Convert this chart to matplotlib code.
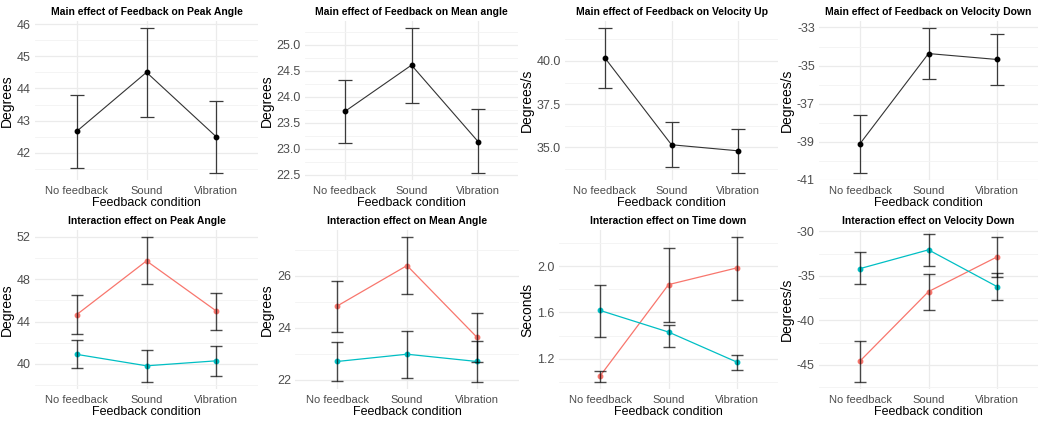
import matplotlib
matplotlib.use("Agg")
import matplotlib.pyplot as plt
from matplotlib.ticker import MultipleLocator, FormatStrFormatter

plt.rcParams['font.family'] = ['Liberation Sans', 'DejaVu Sans']

conditions = ["No feedback", "Sound", "Vibration"]

# main effects: mean, lower, upper
peak_mean = [42.67, 44.50, 42.50]
peak_lo = [41.52, 43.12, 41.38]
peak_hi = [43.80, 45.87, 43.62]

mean_angle_mean = [23.72, 24.61, 23.14]
mean_angle_lo = [23.11, 23.89, 22.54]
mean_angle_hi = [24.33, 25.32, 23.77]

vel_up_mean = [40.17, 35.15, 34.80]
vel_up_lo = [38.44, 33.84, 33.53]
vel_up_hi = [41.89, 36.46, 36.07]

vel_down_mean = [-39.10, -34.37, -34.68]
vel_down_lo = [-40.63, -35.70, -36.00]
vel_down_hi = [-37.60, -33.04, -33.33]

# interaction effects: two groups (red / teal)
peak_red = [44.66, 49.73, 45.00]
peak_red_lo = [42.80, 47.56, 43.22]
peak_red_hi = [46.48, 51.97, 46.74]
peak_teal = [40.89, 39.81, 40.28]
peak_teal_lo = [39.56, 38.30, 38.87]
peak_teal_hi = [42.24, 41.29, 41.67]

mang_red = [24.84, 26.40, 23.64]
mang_red_lo = [23.86, 25.31, 22.69]
mang_red_hi = [25.81, 27.49, 24.59]
mang_teal = [22.71, 22.99, 22.71]
mang_teal_lo = [21.96, 22.08, 21.93]
mang_teal_hi = [23.45, 23.90, 23.51]

time_red = [1.05, 1.84, 1.985]
time_red_lo = [1.00, 1.52, 1.71]
time_red_hi = [1.093, 2.16, 2.25]
time_teal = [1.617, 1.43, 1.17]
time_teal_lo = [1.39, 1.30, 1.105]
time_teal_hi = [1.84, 1.49, 1.235]

vdown_red = [-44.58, -36.77, -32.87]
vdown_red_lo = [-46.92, -38.84, -35.17]
vdown_red_hi = [-42.33, -34.79, -30.65]
vdown_teal = [-34.18, -32.07, -36.20]
vdown_teal_lo = [-35.97, -33.90, -37.74]
vdown_teal_hi = [-32.27, -30.27, -34.67]

RED = "#F8766D"
TEAL = "#00BFC4"
W, H = 1041, 422


def make_axes(fig, left, right, top, bottom):
    """axes from pixel box"""
    return fig.add_axes([left / W, 1 - bottom / H, (right - left) / W, (bottom - top) / H])


def style_axes(ax, title, ylabel, lows, highs, major, minor, fmt):
    """ggplot theme_minimal look"""
    lo, hi = min(lows), max(highs)
    pad = (hi - lo) * 0.05
    ax.set_ylim(lo - pad, hi + pad)
    ax.set_xlim(0.4, 3.6)
    ax.set_xticks([1, 2, 3])
    ax.set_xticklabels(conditions)
    ax.yaxis.set_major_locator(MultipleLocator(major))
    ax.yaxis.set_minor_locator(MultipleLocator(minor))
    ax.yaxis.set_major_formatter(FormatStrFormatter(fmt))
    for s in ax.spines.values():
        s.set_visible(False)
    ax.grid(True, which="major", color="#EBEBEB", lw=0.9)
    ax.grid(True, which="minor", axis="y", color="#F3F3F3", lw=0.6)
    ax.set_axisbelow(True)
    ax.tick_params(which="both", length=0)
    ax.tick_params(axis="x", labelsize=8, colors="#4D4D4D", pad=4)
    ax.tick_params(axis="y", labelsize=9, colors="#4D4D4D", pad=3)
    ax.set_title(title, fontsize=7.5, fontweight="bold", pad=4)
    ax.set_xlabel("Feedback condition", fontsize=9, labelpad=1)
    ax.set_ylabel(ylabel, fontsize=10, labelpad=2)


def draw_main(ax, mean, lo, hi):
    x = [1, 2, 3]
    ax.plot(x, mean, color="#333333", lw=0.8, zorder=2)
    ax.errorbar(x, mean, yerr=[[m - l for m, l in zip(mean, lo)], [h - m for m, h in zip(mean, hi)]],
                fmt="none", ecolor="#3A3A3A", elinewidth=0.9, capsize=5, capthick=0.9, zorder=3)
    ax.plot(x, mean, "o", color="black", ms=3.2, zorder=4)


def draw_group(ax, mean, lo, hi, color):
    x = [1, 2, 3]
    ax.plot(x, mean, color=color, lw=0.9, marker="o", ms=3.2, zorder=2)
    ax.errorbar(x, mean, yerr=[[m - l for m, l in zip(mean, lo)], [h - m for m, h in zip(mean, hi)]],
                fmt="none", ecolor="black", alpha=0.7, elinewidth=1.0, capsize=4, capthick=1.0, zorder=3)


def main():
    fig = plt.figure(figsize=(W / 100, H / 100), dpi=100)
    fig.patch.set_facecolor("white")

    top_row = (21, 180)
    bot_row = (230, 389)

    ax = make_axes(fig, 35, 258, *top_row)
    draw_main(ax, peak_mean, peak_lo, peak_hi)
    style_axes(ax, "Main effect of Feedback on Peak Angle", "Degrees", peak_lo, peak_hi, 1, 0.5, "%d")

    ax = make_axes(fig, 305, 518, *top_row)
    draw_main(ax, mean_angle_mean, mean_angle_lo, mean_angle_hi)
    style_axes(ax, "Main effect of Feedback on Mean angle", "Degrees", mean_angle_lo, mean_angle_hi,
               0.5, 0.25, "%.1f")

    ax = make_axes(fig, 565, 778, *top_row)
    draw_main(ax, vel_up_mean, vel_up_lo, vel_up_hi)
    style_axes(ax, "Main effect of Feedback on Velocity Up", "Degrees/s", vel_up_lo, vel_up_hi,
               2.5, 1.25, "%.1f")

    ax = make_axes(fig, 819, 1038, *top_row)
    draw_main(ax, vel_down_mean, vel_down_lo, vel_down_hi)
    style_axes(ax, "Main effect of Feedback on Velocity Down", "Degrees/s", vel_down_lo, vel_down_hi,
               2, 1, "%d")
    ax.yaxis.set_major_locator(MultipleLocator(2, offset=1))
    ax.yaxis.set_minor_locator(MultipleLocator(1))

    ax = make_axes(fig, 35, 258, *bot_row)
    draw_group(ax, peak_red, peak_red_lo, peak_red_hi, RED)
    draw_group(ax, peak_teal, peak_teal_lo, peak_teal_hi, TEAL)
    style_axes(ax, "Interaction effect on Peak Angle", "Degrees", peak_teal_lo, peak_red_hi, 4, 2, "%d")

    ax = make_axes(fig, 295, 519, *bot_row)
    draw_group(ax, mang_red, mang_red_lo, mang_red_hi, RED)
    draw_group(ax, mang_teal, mang_teal_lo, mang_teal_hi, TEAL)
    style_axes(ax, "Interaction effect on Mean Angle", "Degrees", mang_teal_lo, mang_red_hi, 2, 1, "%d")

    ax = make_axes(fig, 559, 778, *bot_row)
    draw_group(ax, time_red, time_red_lo, time_red_hi, RED)
    draw_group(ax, time_teal, time_teal_lo, time_teal_hi, TEAL)
    style_axes(ax, "Interaction effect on Time down", "Seconds", time_red_lo, time_red_hi, 0.4, 0.2, "%.1f")

    ax = make_axes(fig, 819, 1038, *bot_row)
    draw_group(ax, vdown_red, vdown_red_lo, vdown_red_hi, RED)
    draw_group(ax, vdown_teal, vdown_teal_lo, vdown_teal_hi, TEAL)
    style_axes(ax, "Interaction effect on Velocity Down", "Degrees/s", vdown_red_lo, vdown_red_hi,
               5, 2.5, "%d")

    fig.savefig("out.png", dpi=100)


if __name__ == "__main__":
    main()
